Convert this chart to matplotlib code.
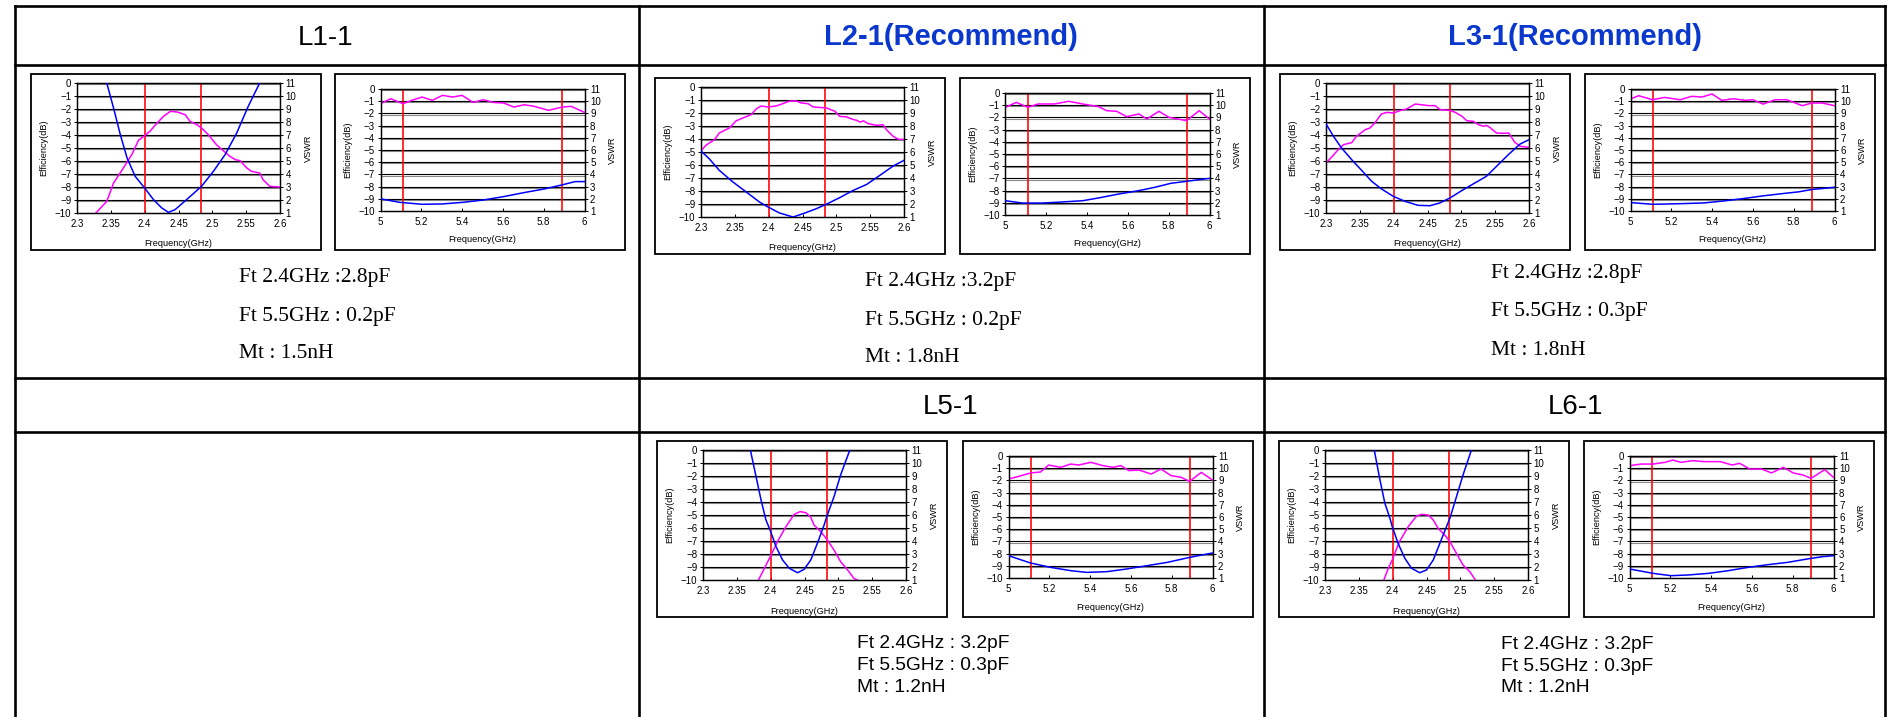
import matplotlib
matplotlib.use('Agg')
import matplotlib.pyplot as plt
from matplotlib.lines import Line2D
from matplotlib.patches import Rectangle
import matplotlib.patheffects as pe

# ------------------------------------------------------------------ data
BAND_24 = [2.4, 2.4835]
BAND_5 = [5.11, 5.89]
X24_TICKS = [2.3, 2.35, 2.4, 2.45, 2.5, 2.55, 2.6]
X24_LABELS = ['2.3', '2.35', '2.4', '2.45', '2.5', '2.55', '2.6']
X5_TICKS = [5.0, 5.2, 5.4, 5.6, 5.8, 6.0]
X5_LABELS = ['5', '5.2', '5.4', '5.6', '5.8', '6']
EFF_TICKS = [-10, -9, -8, -7, -6, -5, -4, -3, -2, -1, 0]
VSWR_TICKS = [1, 2, 3, 4, 5, 6, 7, 8, 9, 10, 11]

HEADERS = ['L1-1', 'L2-1(Recommend)', 'L3-1(Recommend)', 'L5-1', 'L6-1']
NOTES_L1 = ['Ft 2.4GHz :2.8pF', 'Ft 5.5GHz : 0.2pF', 'Mt : 1.5nH']
NOTES_L2 = ['Ft 2.4GHz :3.2pF', 'Ft 5.5GHz : 0.2pF', 'Mt : 1.8nH']
NOTES_L3 = ['Ft 2.4GHz :2.8pF', 'Ft 5.5GHz : 0.3pF', 'Mt : 1.8nH']
NOTES_L5 = ['Ft 2.4GHz : 3.2pF', 'Ft 5.5GHz : 0.3pF', 'Mt : 1.2nH']
NOTES_L6 = ['Ft 2.4GHz : 3.2pF', 'Ft 5.5GHz : 0.3pF', 'Mt : 1.2nH']

# L1-1, 2.4 GHz
L1_24_EFF_F = [2.328, 2.344, 2.354, 2.369, 2.381, 2.391, 2.400, 2.408, 2.418, 2.428, 2.438, 2.448, 2.460,
               2.467, 2.477, 2.484, 2.494, 2.506, 2.516, 2.526, 2.534, 2.541, 2.551, 2.558, 2.570, 2.575,
               2.585, 2.600]
L1_24_EFF = [-10.0, -9.1, -7.7, -6.5, -5.5, -4.4, -4.05, -3.7, -3.1, -2.56, -2.18, -2.23, -2.44,
             -2.95, -3.2, -3.46, -3.97, -4.74, -5.2, -5.64, -5.9, -5.97, -6.54, -6.8, -6.92, -7.44,
             -7.95, -8.0]
L1_24_VSWR_F = [2.344, 2.354, 2.364, 2.374, 2.386, 2.400, 2.413, 2.425, 2.435, 2.445, 2.462, 2.484,
                2.5015, 2.519, 2.536, 2.553, 2.570]
L1_24_VSWR = [11.0, 9.08, 7.03, 5.23, 3.82, 2.92, 2.03, 1.4, 1.05, 1.26, 2.03, 3.05, 4.2, 5.5, 7.15,
              9.2, 11.0]
# L1-1, 5 GHz
L1_5_EFF_F = [5.0, 5.05, 5.11, 5.154, 5.204, 5.254, 5.304, 5.354, 5.4, 5.454, 5.504, 5.554, 5.604,
              5.654, 5.704, 5.754, 5.824, 5.89, 5.934, 6.0]
L1_5_EFF = [-1.2, -0.8, -1.2, -0.93, -0.66, -0.93, -0.52, -0.66, -0.52, -1.1, -0.88, -1.1, -1.15,
            -1.48, -1.29, -1.42, -1.75, -1.48, -1.42, -1.92]
L1_5_VSWR_F = [5.0, 5.094, 5.204, 5.304, 5.404, 5.504, 5.604, 5.704, 5.804, 5.89, 5.954, 6.0]
L1_5_VSWR = [2.0, 1.71, 1.55, 1.58, 1.71, 1.9, 2.18, 2.51, 2.81, 3.14, 3.41, 3.41]

# L2-1, 2.4 GHz
L2_24_EFF_F = [2.300, 2.307, 2.320, 2.327, 2.342, 2.352, 2.362, 2.374, 2.382, 2.389, 2.399, 2.411,
               2.421, 2.431, 2.441, 2.448, 2.458, 2.466, 2.480, 2.485, 2.498, 2.505, 2.515, 2.525,
               2.530, 2.535, 2.540, 2.547, 2.560, 2.569, 2.574, 2.584, 2.592, 2.600]
L2_24_EFF = [-4.92, -4.49, -4.05, -3.54, -3.15, -2.6, -2.38, -2.13, -1.67, -1.46, -1.54, -1.46,
             -1.28, -1.08, -1.08, -1.23, -1.28, -1.54, -1.59, -1.6, -1.87, -2.26, -2.3, -2.5,
             -2.56, -2.7, -2.6, -2.82, -2.95, -2.9, -3.28, -3.8, -4.03, -4.03]
L2_24_VSWR_F = [2.300, 2.312, 2.327, 2.347, 2.367, 2.3865, 2.399, 2.416, 2.436, 2.451, 2.4705, 2.484,
                2.505, 2.525, 2.545, 2.5645, 2.584, 2.600]
L2_24_VSWR = [6.08, 5.49, 4.59, 3.7, 2.92, 2.15, 1.77, 1.31, 1.0, 1.26, 1.64, 1.95, 2.49, 3.05,
              3.51, 4.21, 4.92, 5.36]
# L2-1, 5 GHz
L2_5_EFF_F = [5.0, 5.053, 5.11, 5.16, 5.24, 5.31, 5.378, 5.457, 5.496, 5.545, 5.594, 5.654, 5.693,
              5.752, 5.8, 5.888, 5.949, 6.0]
L2_5_EFF = [-1.17, -0.77, -1.17, -0.9, -0.9, -0.68, -0.9, -1.12, -1.45, -1.5, -1.94, -1.72, -2.13,
            -1.5, -1.99, -2.27, -1.45, -2.13]
L2_5_VSWR_F = [5.0, 5.083, 5.18, 5.28, 5.378, 5.457, 5.555, 5.654, 5.732, 5.811, 5.888, 5.949, 6.0]
L2_5_VSWR = [2.17, 1.98, 1.98, 2.07, 2.17, 2.4, 2.72, 3.0, 3.27, 3.6, 3.76, 3.9, 4.0]

# L3-1, 2.4 GHz
L3_24_EFF_F = [2.300, 2.308, 2.318, 2.326, 2.338, 2.345, 2.358, 2.365, 2.372, 2.382, 2.390, 2.400,
               2.409, 2.419, 2.432, 2.441, 2.451, 2.461, 2.469, 2.483, 2.491, 2.501, 2.508, 2.518,
               2.525, 2.533, 2.537, 2.542, 2.552, 2.562, 2.570, 2.579, 2.587, 2.600]
L3_24_EFF = [-6.15, -5.72, -5.13, -4.74, -4.59, -4.1, -3.59, -3.46, -3.08, -2.38, -2.26, -2.31,
             -2.13, -2.0, -1.62, -1.67, -1.74, -1.74, -2.05, -2.1, -2.26, -2.56, -2.9, -2.95,
             -3.2, -3.33, -3.26, -3.41, -3.85, -3.87, -3.85, -4.56, -4.87, -4.95]
L3_24_VSWR_F = [2.300, 2.311, 2.323, 2.338, 2.353, 2.3675, 2.382, 2.3995, 2.4167, 2.436, 2.4537,
                2.468, 2.483, 2.5005, 2.520, 2.537, 2.552, 2.5695, 2.587, 2.600]
L3_24_VSWR = [7.85, 6.9, 6.0, 5.1, 4.26, 3.44, 2.85, 2.28, 1.9, 1.59, 1.56, 1.77, 2.15, 2.72, 3.31,
              3.82, 4.59, 5.49, 6.31, 6.64]
# L3-1, 5 GHz
L3_5_EFF_F = [5.0, 5.04, 5.108, 5.166, 5.244, 5.3, 5.35, 5.4, 5.447, 5.505, 5.563, 5.6, 5.65, 5.708,
              5.766, 5.843, 5.888, 5.94, 6.0]
L3_5_EFF = [-0.82, -0.55, -0.88, -0.69, -0.88, -0.6, -0.66, -0.41, -0.93, -0.8, -0.93, -0.88, -1.24,
            -0.88, -0.88, -1.37, -1.15, -1.15, -1.37]
L3_5_VSWR_F = [5.0, 5.108, 5.244, 5.36, 5.456, 5.553, 5.65, 5.747, 5.824, 5.888, 5.94, 6.0]
L3_5_VSWR = [1.69, 1.55, 1.6, 1.66, 1.82, 2.02, 2.24, 2.43, 2.57, 2.76, 2.84, 2.95]

# L5-1, 2.4 GHz
L5_24_EFF_F = [2.382, 2.3907, 2.3995, 2.410, 2.4225, 2.4348, 2.4436, 2.452, 2.4593, 2.464, 2.474,
               2.4838, 2.4936, 2.5034, 2.513, 2.523, 2.528]
L5_24_EFF = [-10.0, -9.1, -8.2, -7.05, -5.9, -4.95, -4.74, -4.82, -5.18, -5.77, -6.28, -6.92, -7.69,
             -8.59, -9.18, -9.87, -10.0]
L5_24_VSWR_F = [2.370, 2.3784, 2.3858, 2.393, 2.3995, 2.408, 2.4176, 2.4275, 2.4397, 2.4495, 2.4593,
                2.469, 2.479, 2.4838, 2.4936, 2.5034, 2.517]
L5_24_VSWR = [11.0, 8.95, 7.15, 5.62, 4.8, 3.56, 2.54, 1.9, 1.56, 1.82, 2.54, 3.82, 5.23, 6.0, 7.41,
              9.08, 11.0]
# L5-1, 5 GHz
L5_5_EFF_F = [5.0, 5.05, 5.108, 5.157, 5.197, 5.256, 5.305, 5.344, 5.404, 5.463, 5.512, 5.551, 5.59,
              5.64, 5.699, 5.748, 5.797, 5.846, 5.888, 5.945, 6.0]
L5_5_EFF = [-1.89, -1.67, -1.39, -1.31, -0.74, -0.93, -0.66, -0.74, -0.52, -0.79, -0.93, -0.79, -1.2,
            -1.15, -1.48, -1.07, -1.61, -1.75, -2.08, -1.34, -1.97]
L5_5_VSWR_F = [5.0, 5.108, 5.207, 5.305, 5.384, 5.482, 5.58, 5.679, 5.778, 5.888, 5.955, 6.0]
L5_5_VSWR = [2.83, 2.23, 1.87, 1.6, 1.46, 1.52, 1.74, 2.01, 2.28, 2.69, 2.91, 3.05]

# L6-1, 2.4 GHz
L6_24_EFF_F = [2.387, 2.3935, 2.3994, 2.410, 2.423, 2.4353, 2.4426, 2.4525, 2.460, 2.4672, 2.477,
               2.4845, 2.4943, 2.504, 2.514, 2.5223]
L6_24_EFF = [-10.0, -9.1, -8.46, -7.05, -5.9, -5.08, -4.95, -5.0, -5.38, -6.03, -6.54, -7.05, -7.95,
             -8.85, -9.36, -10.0]
L6_24_VSWR_F = [2.3728, 2.3812, 2.3885, 2.396, 2.3994, 2.408, 2.418, 2.4279, 2.440, 2.450, 2.460,
                2.4697, 2.4795, 2.4845, 2.4943, 2.504, 2.5164]
L6_24_VSWR = [11.0, 8.7, 6.9, 5.74, 5.1, 3.82, 2.67, 1.9, 1.56, 1.77, 2.54, 3.82, 5.1, 5.74, 7.41,
              9.08, 11.0]
# L6-1, 5 GHz
L6_5_EFF_F = [5.0, 5.058, 5.116, 5.174, 5.213, 5.251, 5.31, 5.367, 5.445, 5.503, 5.54, 5.59, 5.648,
              5.696, 5.754, 5.803, 5.851, 5.89, 5.957, 6.0]
L6_5_EFF = [-0.79, -0.66, -0.66, -0.52, -0.33, -0.52, -0.38, -0.46, -0.46, -0.74, -0.6, -1.07, -1.07,
            -1.39, -0.93, -1.39, -1.56, -1.83, -1.12, -1.75]
L6_5_VSWR_F = [5.0, 5.116, 5.203, 5.29, 5.387, 5.484, 5.58, 5.677, 5.774, 5.851, 5.89, 5.948, 6.0]
L6_5_VSWR = [1.74, 1.38, 1.19, 1.25, 1.38, 1.6, 1.87, 2.09, 2.28, 2.5, 2.61, 2.75, 2.83]

# ------------------------------------------------------------------ figure
W, H, DPI = 1888, 717, 100
plt.rcParams['font.family'] = ['Liberation Sans', 'DejaVu Sans']
plt.rcParams['axes.unicode_minus'] = False
fig = plt.figure(figsize=(W / DPI, H / DPI), dpi=DPI)
fig.patch.set_facecolor('white')

MAGENTA, BLUE, RED = '#ff00ff', '#0000ff', '#ff0000'
BOX_W, BOX_H = 290, 176


def rect(x, y, w, h):
    return [x / W, 1 - (y + h) / H, w / W, h / H]


def hline(y, x0, x1, lw=1.9):
    fig.add_artist(Line2D([x0 / W, x1 / W], [1 - y / H, 1 - y / H], transform=fig.transFigure,
                          color='black', lw=lw, solid_capstyle='projecting'))


def vline(x, y0, y1, lw=1.9):
    fig.add_artist(Line2D([x / W, x / W], [1 - y0 / H, 1 - y1 / H], transform=fig.transFigure,
                          color='black', lw=lw, solid_capstyle='projecting'))


def ftext(x, y, s, **kw):
    fig.text(x / W, 1 - y / H, s, **kw)


# table grid
TL, TR = 14.5, 1885
C1, C2 = 639, 1263.5
hline(6, TL, TR)
hline(64.5, TL, TR)
hline(377.5, TL, TR)
hline(432, TL, TR)
for xv in (TL, C1, C2, TR):
    vline(xv, 6, 717)

# headers
ftext(326, 45, HEADERS[0], fontsize=20, ha='center', va='baseline', color='black')
ftext(951, 45, HEADERS[1], fontsize=21, ha='center', va='baseline', color='#0a37cc', fontweight='bold')
ftext(1575, 45, HEADERS[2], fontsize=21, ha='center', va='baseline', color='#0a37cc', fontweight='bold')
ftext(951, 414.5, HEADERS[3], fontsize=20, ha='center', va='baseline', color='black')
ftext(1575, 414.5, HEADERS[4], fontsize=20, ha='center', va='baseline', color='black')


def notes(x, ys, lines, serif):
    for yy, s in zip(ys, lines):
        if serif:
            ftext(x, yy, s, fontsize=15.5, family=['Liberation Serif', 'DejaVu Serif'],
                  ha='left', va='baseline')
        else:
            ftext(x, yy, s, fontsize=13.8, ha='left', va='baseline')


notes(239, [282, 320.5, 358.5], NOTES_L1, True)
notes(865, [286, 324.5, 362], NOTES_L2, True)
notes(1491, [278.5, 316.5, 355], NOTES_L3, True)
notes(857, [648.5, 670.5, 692.5], NOTES_L5, False)
notes(1501, [649, 671, 692.5], NOTES_L6, False)

GRID_FX = [pe.SimpleLineShadow(offset=(0, -0.8), shadow_color='#8a8a8a', alpha=1.0), pe.Normal()]


def chart(bx, by, band, ef_f, ef, vs_f, vs):
    fig.add_artist(Rectangle((bx / W, 1 - (by + BOX_H) / H), BOX_W / W, BOX_H / H,
                             transform=fig.transFigure, fill=False, ec='black', lw=1.3))
    if band == 24:
        ox, oy, pw, ph = 46, 9, 203, 130
        xlim, xt, xl, marks, dy = (2.3, 2.6), X24_TICKS, X24_LABELS, BAND_24, 170
    else:
        ox, oy, pw, ph = 45.5, 15, 204, 122
        xlim, xt, xl, marks, dy = (5.0, 6.0), X5_TICKS, X5_LABELS, BAND_5, 166
    ax = fig.add_axes(rect(bx + ox, by + oy, pw, ph))
    ax.set_xlim(*xlim)
    ax.set_ylim(-10, 0)
    ax.set_xticks(xt)
    ax.set_xticklabels(xl)
    ax.set_yticks(EFF_TICKS)
    ax.set_yticklabels([str(t) if t == 0 else '\u2212' + str(-t) for t in EFF_TICKS])
    for t in EFF_TICKS[1:]:
        ax.axhline(t, color='black', lw=0.8, zorder=1, path_effects=GRID_FX)
    for m in marks:
        ax.axvline(m, color=RED, lw=1.15, zorder=2)
    ax.plot(ef_f, ef, color=MAGENTA, lw=1.1, zorder=3)
    ax.tick_params(axis='x', direction='in', length=2.5, width=0.7, pad=4.5, labelsize=7)
    ax.tick_params(axis='y', direction='out', length=2, width=0.7, pad=2, labelsize=7)
    for s in ax.spines.values():
        s.set_linewidth(0.9)
        s.set_color('black')
    ax2 = ax.twinx()
    ax2.set_ylim(1, 11)
    ax2.set_yticks(VSWR_TICKS)
    ax2.plot(vs_f, vs, color=BLUE, lw=1.1, zorder=3)
    ax2.tick_params(axis='y', direction='out', length=2, width=0.7, pad=2, labelsize=7)
    for s in ax2.spines.values():
        s.set_linewidth(0.9)
        s.set_color('black')
    cx = bx + ox + pw / 2
    cy = by + oy + ph / 2
    ftext(cx, by + dy, 'Frequency(GHz)', fontsize=6.6, ha='center', va='center')
    ftext(bx + 13, cy, 'Efficiency(dB)', fontsize=6.6, ha='center', va='center', rotation=90)
    ftext(bx + 277, cy, 'VSWR', fontsize=6.6, ha='center', va='center', rotation=90)


chart(31, 74, 24, L1_24_EFF_F, L1_24_EFF, L1_24_VSWR_F, L1_24_VSWR)
chart(335, 74, 5, L1_5_EFF_F, L1_5_EFF, L1_5_VSWR_F, L1_5_VSWR)
chart(655, 78, 24, L2_24_EFF_F, L2_24_EFF, L2_24_VSWR_F, L2_24_VSWR)
chart(960, 78, 5, L2_5_EFF_F, L2_5_EFF, L2_5_VSWR_F, L2_5_VSWR)
chart(1280, 74, 24, L3_24_EFF_F, L3_24_EFF, L3_24_VSWR_F, L3_24_VSWR)
chart(1585, 74, 5, L3_5_EFF_F, L3_5_EFF, L3_5_VSWR_F, L3_5_VSWR)
chart(657, 441, 24, L5_24_EFF_F, L5_24_EFF, L5_24_VSWR_F, L5_24_VSWR)
chart(963, 441, 5, L5_5_EFF_F, L5_5_EFF, L5_5_VSWR_F, L5_5_VSWR)
chart(1279, 441, 24, L6_24_EFF_F, L6_24_EFF, L6_24_VSWR_F, L6_24_VSWR)
chart(1584, 441, 5, L6_5_EFF_F, L6_5_EFF, L6_5_VSWR_F, L6_5_VSWR)

fig.savefig('out.png', dpi=DPI, facecolor='white')
